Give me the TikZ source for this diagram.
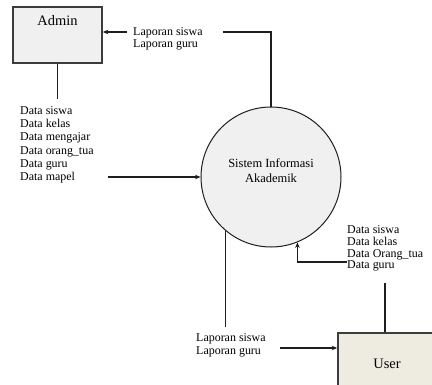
\documentclass[tikz,border=0pt]{standalone}
\usepackage{fontspec}
\setmainfont{Liberation Serif}
\usetikzlibrary{arrows.meta}
\definecolor{boxgray}{HTML}{F0F0F0}
\definecolor{boxbeige}{HTML}{EEECE1}
\definecolor{edgegray}{HTML}{3C3C3C}
\definecolor{linegray}{HTML}{1E1E1E}
\tikzset{
  entity/.style={draw=edgegray, line width=1.6bp, rectangle, inner sep=0pt},
  process/.style={draw=linegray, line width=1bp, circle, fill=boxgray, inner sep=0pt, minimum size=140bp},
  flow/.style={draw=linegray, line width=1.1bp},
  arr/.style={flow, -{Stealth[length=5.5bp,width=4.5bp]}},
  flowtext/.style={align=left, anchor=north west, inner sep=0pt, font=\fontsize{12}{13}\selectfont},
}
\begin{document}
\begin{tikzpicture}[x=1bp,y=-1bp]
\useasboundingbox (0,0) rectangle (432,385);
\clip (0,0) rectangle (432,385);

% entities and process
\node[entity, fill=boxgray, minimum width=89bp, minimum height=56bp,
      label={[anchor=north, yshift=-6bp, font=\fontsize{14.5}{16}\selectfont]north:Admin}] (admin) at (57.5,35) {};
\node[entity, fill=boxbeige, minimum width=98bp, minimum height=62bp,
      font=\fontsize{14.5}{16}\selectfont] (user) at (387,364) {User};
\node[process,
      label={[align=center, yshift=6.5bp, font=\fontsize{12.5}{15}\selectfont]center:Sistem Informasi\\Akademik}] (sia) at (271,177) {};

% flow labels
\node[flowtext, font=\fontsize{12}{12}\selectfont] (lapA) at (133,27) {Laporan siswa\\Laporan guru};
\node[flowtext, font=\fontsize{12}{13.2}\selectfont] (dataA) at (20,106.5) {Data siswa\\Data kelas\\Data mengajar\\Data orang\_tua\\Data guru\\Data mapel};
\node[flowtext, font=\fontsize{12}{13}\selectfont] (lapB) at (196,333) {Laporan siswa\\Laporan guru};
\node[flowtext, font=\fontsize{12}{12}\selectfont] (dataB) at (347,225) {Data siswa\\Data kelas\\Data Orang\_tua\\Data guru};

% connector points
\coordinate (t1) at (223,32);
\coordinate (t2) at (127,32);
\coordinate (ab) at (57.5,99);
\coordinate (la) at (108,177);
\coordinate (bl) at (226,327);
\coordinate (ua) at (280,348);
\coordinate (ut) at (385,283);
\coordinate (rt) at (347,262);

% flows
\draw[flow] (sia.north) |- (t1);
\draw[arr] (t2) -- (t2 -| admin.east);
\draw[flow] (admin.south) -- (ab);
\draw[arr] (la) -- (sia.west);
\draw[flow] (sia.230) -- (sia.230 |- bl);
\draw[arr] (ua) -- (ua -| user.west);
\draw[flow] (ut |- user.north) -- (ut);
\draw[arr] (rt) -| (sia.292);
\end{tikzpicture}
\end{document}
